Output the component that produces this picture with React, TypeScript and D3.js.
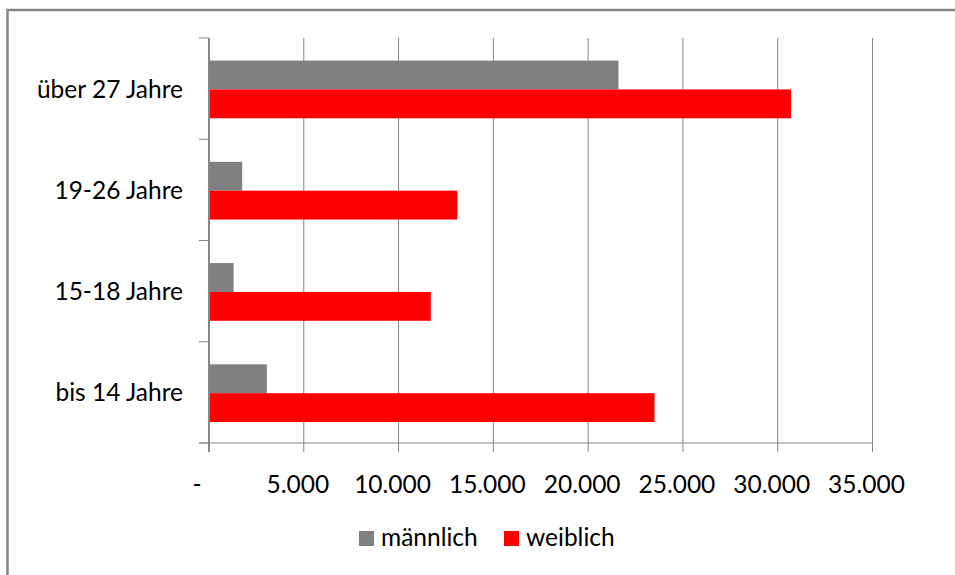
import React from "react";
import * as d3 from "d3";

const categories = ["über 27 Jahre", "19-26 Jahre", "15-18 Jahre", "bis 14 Jahre"];
const seriesNames = ["männlich", "weiblich"];
const maleValues = [21600, 1750, 1300, 3050];
const femaleValues = [30700, 13100, 11700, 23500];
const tickValues = [0, 5000, 10000, 15000, 20000, 25000, 30000, 35000];
const tickLabels = ["-", "5.000", "10.000", "15.000", "20.000", "25.000", "30.000", "35.000"];
const colors = ["#808080", "#ff0000"];

const W = 955;
const H = 575;
const plot = { left: 209, right: 872.5, top: 38, bottom: 443 };
const FONT = "Lato, 'Liberation Sans', sans-serif";
const GRID = "#868686";
const FS = 24.5;

export default function App() {
  const x = d3.scaleLinear().domain([0, 35000]).range([plot.left, plot.right]);
  const y = d3
    .scaleBand<string>()
    .domain(categories)
    .range([plot.top, plot.bottom])
    .paddingInner(0.43)
    .paddingOuter(0.215);
  const ys = d3.scaleBand<string>().domain(seriesNames).range([0, y.bandwidth()]);
  const step = y.step();
  const boundaries = d3.range(categories.length + 1).map((i) => plot.top + i * step);
  const seriesValues = [maleValues, femaleValues];

  return (
    <svg
      width={W}
      height={H}
      style={{ position: "absolute", left: 0, top: 0, background: "#fff" }}
    >
      <rect x={0} y={0} width={W} height={H} fill="#fff" />
      {/* outer border */}
      <rect x={7.5} y={10} width={W + 20} height={H + 20} fill="none" stroke={GRID} strokeWidth={2.5} />

      {/* gridlines */}
      {tickValues.slice(1).map((t) => (
        <line key={"g" + t} x1={x(t)} x2={x(t)} y1={plot.top} y2={plot.bottom} stroke={GRID} strokeWidth={1} />
      ))}

      {/* bars */}
      {categories.map((c, i) =>
        seriesNames.map((s, j) => (
          <rect
            key={c + s}
            x={x(0)}
            y={(y(c) as number) + (ys(s) as number) + 0.8}
            width={x(seriesValues[j][i]) - x(0)}
            height={ys.bandwidth()}
            fill={colors[j]}
          />
        ))
      )}

      {/* x axis line and ticks */}
      <line x1={plot.left - 10} x2={plot.right} y1={plot.bottom} y2={plot.bottom} stroke={GRID} strokeWidth={1} />
      {tickValues.map((t) => (
        <line key={"t" + t} x1={x(t)} x2={x(t)} y1={plot.bottom} y2={plot.bottom + 9} stroke={GRID} strokeWidth={1} />
      ))}
      {/* y axis line and ticks */}
      <line x1={plot.left} x2={plot.left} y1={plot.top} y2={plot.bottom + 9} stroke={GRID} strokeWidth={2} />
      {boundaries.map((b, i) => (
        <line key={"yt" + i} x1={plot.left - 10} x2={plot.left} y1={b} y2={b} stroke={GRID} strokeWidth={1} />
      ))}

      {/* x tick labels */}
      {tickValues.map((t, i) => (
        <text
          key={"l" + t}
          x={x(t) - (i === 0 ? 12 : 6)}
          y={493}
          textAnchor="middle"
          fontFamily={FONT}
          fontSize={FS}
          fill="#000"
        >
          {tickLabels[i]}
        </text>
      ))}

      {/* category labels */}
      {categories.map((c) => (
        <text
          key={"c" + c}
          x={183}
          y={(y(c) as number) + y.bandwidth() / 2 + 9}
          textAnchor="end"
          fontFamily={FONT}
          fontSize={FS}
          fill="#000"
        >
          {c}
        </text>
      ))}

      {/* legend */}
      {seriesNames.map((s, j) => {
        const lx = [359, 504][j];
        return (
          <g key={"lg" + s}>
            <rect x={lx} y={531} width={15} height={15} fill={colors[j]} />
            <text x={lx + 22} y={546} fontFamily={FONT} fontSize={FS} fill="#000">
              {s}
            </text>
          </g>
        );
      })}
    </svg>
  );
}
